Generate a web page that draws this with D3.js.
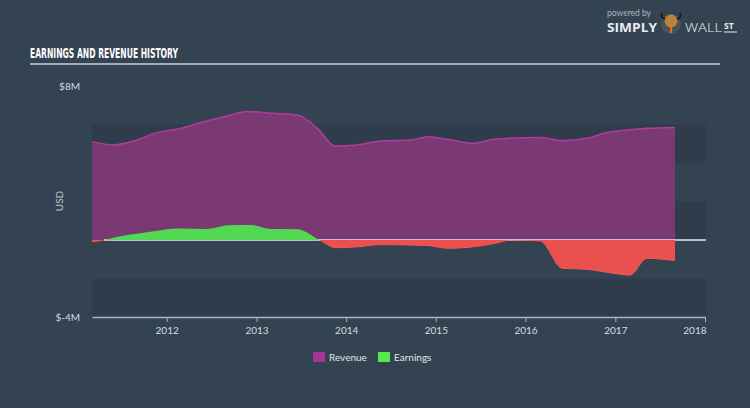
<!DOCTYPE html>
<html><head><meta charset="utf-8">
<script src="https://cdn.jsdelivr.net/npm/d3@7"></script>
<style>html,body{margin:0;padding:0;background:#344352;}svg{display:block;}</style>
</head><body>
<svg id="c" width="750" height="408"></svg>
<script>
const revenueDates = ["2011-03-03","2011-05-30","2011-09-01","2011-11-24","2012-02-12","2012-06-15","2012-09-05","2012-11-24","2013-03-11","2013-06-15","2013-09-06","2013-11-18","2014-02-15","2014-05-20","2014-09-19","2014-12-01","2015-02-17","2015-06-04","2015-08-23","2016-03-01","2016-05-30","2016-09-06","2016-11-27","2017-05-08","2017-09-01"];
const revenueValues = [5.11,4.94,5.19,5.59,5.75,6.2,6.44,6.67,6.58,6.49,5.8,4.88,4.94,5.14,5.19,5.37,5.23,5.02,5.23,5.33,5.16,5.28,5.58,5.8,5.85];
const earningsDates = ["2011-03-03","2011-04-20","2011-06-15","2011-09-15","2011-11-24","2012-02-12","2012-06-15","2012-09-05","2012-12-10","2013-03-01","2013-06-15","2013-09-15","2013-11-20","2014-02-20","2014-05-20","2014-12-01","2015-02-17","2015-06-04","2015-09-01","2015-11-01","2016-03-01","2016-05-30","2016-09-06","2016-12-10","2017-03-01","2017-05-10","2017-09-01"];
const earningsValues = [-0.09,0.0,0.17,0.35,0.48,0.6,0.57,0.76,0.78,0.57,0.56,0.0,-0.4,-0.35,-0.24,-0.29,-0.43,-0.35,-0.17,0.0,-0.05,-1.47,-1.52,-1.7,-1.82,-0.95,-1.07];
const yTicks = [-4, 8];
const xTickYears = [2012,2013,2014,2015,2016,2017,2018];
const bandRanges = [[-4,-2],[0,2],[4,6]];
const seriesNames = ["Revenue","Earnings"];

const svg = d3.select("#c");
const W = 750, H = 408;
const mLeft = 92, mRight = 705, mTop = 86, mBottom = 317;
const parse = d3.timeParse("%Y-%m-%d");
const rev = revenueDates.map((d,i)=>({date:parse(d), v:revenueValues[i]}));
const earn = earningsDates.map((d,i)=>({date:parse(d), v:earningsValues[i]}));

const x = d3.scaleTime().domain([parse("2011-03-03"), new Date(2018,0,1)]).range([mLeft, mRight]);
const y = d3.scaleLinear().domain([-4, 8]).range([mBottom, mTop]);

svg.append("rect").attr("width",W).attr("height",H).attr("fill","#344352");

// bands
svg.append("g").selectAll("rect").data(bandRanges).join("rect")
  .attr("x", mLeft).attr("width", mRight-mLeft+1)
  .attr("y", d=>y(d[1])).attr("height", d=>y(d[0])-y(d[1]))
  .attr("fill","#2e3c4b");

// title
svg.append("text").attr("x",30).attr("y",58).text("EARNINGS AND REVENUE HISTORY")
  .attr("font-family","'DejaVu Sans Condensed','Liberation Sans Narrow',sans-serif")
  .attr("font-weight","bold").attr("font-size",14.5).attr("fill","#ffffff")
  .attr("textLength",148).attr("lengthAdjust","spacingAndGlyphs");
svg.append("line").attr("x1",30).attr("x2",720).attr("y1",64).attr("y2",64)
  .attr("stroke","#c9d1d9").attr("stroke-width",1.5);

// revenue area
const curve = d3.curveMonotoneX;
svg.append("path").datum(rev)
  .attr("d", d3.area().x(d=>x(d.date)).y0(y(0)).y1(d=>y(d.v)).curve(curve))
  .attr("fill","#7a3973");
svg.append("path").datum(rev)
  .attr("d", d3.line().x(d=>x(d.date)).y(d=>y(d.v)).curve(curve))
  .attr("fill","none").attr("stroke","#b13ba3").attr("stroke-width",1.5);

// zero line
svg.append("line").attr("x1",x(earn[1].date)).attr("x2",mRight+1).attr("y1",y(0)).attr("y2",y(0))
  .attr("stroke","#e6e9ec").attr("stroke-width",1.5);

// earnings
const defs = svg.append("defs");
defs.append("clipPath").attr("id","above").append("rect")
  .attr("x",0).attr("y",0).attr("width",W).attr("height",y(0));
defs.append("clipPath").attr("id","below").append("rect")
  .attr("x",0).attr("y",y(0)).attr("width",W).attr("height",H-y(0));
const earnArea = d3.area().x(d=>x(d.date)).y0(y(0)).y1(d=>y(d.v)).curve(curve);
const earnLine = d3.line().x(d=>x(d.date)).y(d=>y(d.v)).curve(curve);
svg.append("path").datum(earn).attr("d",earnArea).attr("fill","#52d853").attr("clip-path","url(#above)");
svg.append("path").datum(earn).attr("d",earnArea).attr("fill","#e9504e").attr("clip-path","url(#below)");
svg.append("path").datum(earn).attr("d",earnLine).attr("fill","none").attr("stroke","#f25a58").attr("stroke-width",1).attr("clip-path","url(#below)");

// axis
const ax = svg.append("g").attr("transform",`translate(0,${mBottom})`)
  .call(d3.axisBottom(x).tickValues(xTickYears.map(yy=>new Date(yy,0,1))).tickFormat(d3.timeFormat("%Y")).tickSize(5).tickSizeOuter(0));
ax.select(".domain").attr("stroke","#aab4be").attr("stroke-width",1.5);
ax.selectAll(".tick line").attr("stroke","#aab4be");
ax.selectAll(".tick text").attr("fill","#d4dae0").attr("font-family","Lato, 'Open Sans', sans-serif").attr("font-size",10).attr("dy","0.9em");
ax.selectAll(".tick").filter(d=>d.getFullYear()===2018).select("text").attr("text-anchor","end").attr("dx","1");

// y labels
svg.append("g").selectAll("text").data(yTicks).join("text")
  .attr("x",80).attr("y",d=>y(d)).attr("dy","0.35em").attr("text-anchor","end")
  .attr("font-family","Lato, 'Open Sans', sans-serif").attr("font-size",10).attr("fill","#d4dae0")
  .text(d=>"$"+d+"M");
svg.append("text").attr("transform","translate(63,201) rotate(-90)").attr("text-anchor","middle")
  .attr("font-family","Lato, 'Open Sans', sans-serif").attr("font-size",10).attr("fill","#c0c8d0").text("USD");

// legend
const legColors = ["#a3349a","#55e84f"];
const legX = [313, 378];
const lg = svg.append("g").selectAll("g").data(seriesNames).join("g")
  .attr("transform",(d,i)=>`translate(${legX[i]},352)`);
lg.append("rect").attr("width",12).attr("height",10).attr("fill",(d,i)=>legColors[i]);
lg.append("text").attr("x",16).attr("y",5).attr("dy","0.35em")
  .attr("font-family","Lato, 'Open Sans', sans-serif").attr("font-size",10).attr("fill","#e0e4e8").text(d=>d);

// logo
const logo = svg.append("g");
logo.append("text").attr("x",607).attr("y",16).text("powered by")
  .attr("font-family","Lato, sans-serif").attr("font-size",8.5).attr("fill","#aab3bc");
logo.append("text").attr("x",607).attr("y",32).text("SIMPLY")
  .attr("font-family","'Open Sans', sans-serif").attr("font-weight","bold").attr("font-size",12).attr("fill","#e8ecef")
  .attr("textLength",50).attr("lengthAdjust","spacingAndGlyphs");
logo.append("circle").attr("cx",671).attr("cy",24).attr("r",10).attr("fill","#4a525a");
logo.append("circle").attr("cx",671).attr("cy",21).attr("r",6.5).attr("fill","#b8843a");
logo.append("path").attr("d","M662,13 Q660,18 665,19 M680,13 Q682,18 677,19").attr("stroke","#1e1e1e").attr("stroke-width",2).attr("fill","none");
logo.append("rect").attr("x",670).attr("y",27).attr("width",2).attr("height",6).attr("fill","#e06a20");
logo.append("text").attr("x",685).attr("y",32).text("WALL")
  .attr("font-family","'Open Sans', sans-serif").attr("font-weight","300").attr("font-size",12).attr("fill","#e8ecef")
  .attr("textLength",37).attr("lengthAdjust","spacingAndGlyphs");
logo.append("text").attr("x",724).attr("y",29).text("ST")
  .attr("font-family","'Open Sans', sans-serif").attr("font-weight","bold").attr("font-size",8.5).attr("fill","#e8ecef");
logo.append("line").attr("x1",724).attr("x2",737).attr("y1",32).attr("y2",32).attr("stroke","#e8ecef").attr("stroke-width",1);
</script>
</body></html>
